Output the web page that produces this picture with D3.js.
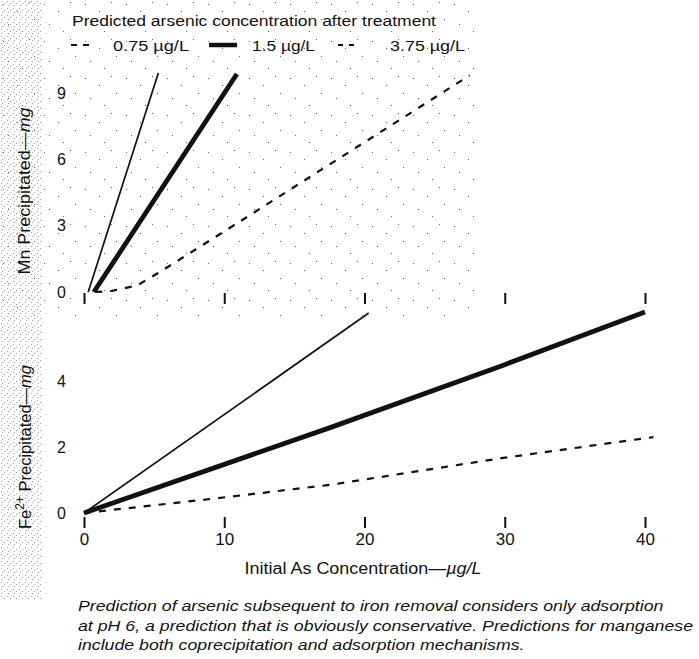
<!DOCTYPE html>
<html lang="en">
<head>
<meta charset="UTF-8">
<title>arsenic-precipitation</title>
<script src="https://cdn.jsdelivr.net/npm/d3@7/dist/d3.min.js"></script>
<style>
  body { margin: 0; background: #fff; }
  text { font-family: "Liberation Sans", Arial, sans-serif; fill: #111; }
</style>
</head>
<body>
<svg id="chart" width="699" height="659"></svg>
<script>
// ticks
const xTicks = [0, 10, 20, 30, 40];
const mnTicks = [0, 3, 6, 9];
const feTicks = [0, 2, 4];
const seriesLabels = ["0.75 µg/L", "1.5 µg/L", "3.75 µg/L"];

// Mn precipitated (upper panel)
const mn075As = [0.3, 5.3];
const mn075Mg = [0, 9.9];
const mn15As = [0.7, 10.9];
const mn15Mg = [0, 9.86];
const mn375As = [0.8, 2.0, 3.8, 5.4, 10.9, 27.5];
const mn375Mg = [0, 0.05, 0.3, 0.9, 3.1, 9.8];

// Fe2+ precipitated (lower panel)
const fe075As = [0, 20.3];
const fe075Mg = [0, 6.06];
const fe15As = [0, 17.5, 29.9, 40];
const fe15Mg = [0, 2.58, 4.48, 6.09];
const fe375As = [0, 8.3, 17.5, 29.9, 40.6];
const fe375Mg = [0, 0.39, 0.85, 1.67, 2.3];

const svg = d3.select("#chart");

// scanned-paper stipple (just texture, no data)
const defs = svg.append("defs");
const dense = defs.append("pattern").attr("id", "dense")
  .attr("width", 6).attr("height", 7).attr("patternUnits", "userSpaceOnUse");
[[1, 1], [4, 3], [2, 5]].forEach(p => dense.append("rect")
  .attr("x", p[0]).attr("y", p[1]).attr("width", 1).attr("height", 1).attr("fill", "#444"));
const sparse = defs.append("pattern").attr("id", "sparse")
  .attr("width", 41).attr("height", 37).attr("patternUnits", "userSpaceOnUse");
[[3, 4], [17, 11], [29, 2], [8, 24], [34, 19], [22, 31]].forEach(p => sparse.append("rect")
  .attr("x", p[0]).attr("y", p[1]).attr("width", 1).attr("height", 1).attr("fill", "#666"));
svg.append("rect").attr("x", 0).attr("y", 0).attr("width", 480).attr("height", 320).attr("fill", "url(#sparse)");
svg.append("rect").attr("x", 0).attr("y", 0).attr("width", 42).attr("height", 600).attr("fill", "url(#dense)").attr("opacity", 0.5);

const x = d3.scaleLinear().domain([0, 40]).range([84, 645]);
const yMn = d3.scaleLinear().domain([0, 9]).range([292, 93]);
const yFe = d3.scaleLinear().domain([0, 4]).range([513, 381]);

// line styles per series
const styles = [
  { width: 1.7, dash: null },
  { width: 4.8, dash: null },
  { width: 2.2, dash: "7,8" }
];

function zip(xs, ys) { return xs.map((v, i) => [v, ys[i]]); }

function drawSeries(yScale, sets) {
  const line = d3.line().x(d => x(d[0])).y(d => yScale(d[1]));
  sets.forEach((pts, i) => {
    svg.append("path")
      .attr("d", line(pts))
      .attr("fill", "none")
      .attr("stroke", "#111")
      .attr("stroke-width", styles[i].width)
      .attr("stroke-dasharray", styles[i].dash);
  });
}

drawSeries(yMn, [zip(mn075As, mn075Mg), zip(mn15As, mn15Mg), zip(mn375As, mn375Mg)]);
drawSeries(yFe, [zip(fe075As, fe075Mg), zip(fe15As, fe15Mg), zip(fe375As, fe375Mg)]);

// x axes: upper one only tick marks, lower with labels
function xAxis(yPos, withLabels) {
  const g = svg.append("g").attr("transform", `translate(0,${yPos})`)
    .call(d3.axisBottom(x).tickValues(xTicks).tickSize(11).tickPadding(5)
      .tickFormat(withLabels ? d3.format("d") : ""));
  g.select(".domain").remove();
  g.selectAll(".tick line").attr("stroke", "#111").attr("stroke-width", 2);
  g.selectAll(".tick text").style("font-size", "17px").attr("fill", "#111");
}
xAxis(293, false);
xAxis(517, true);

// y axes: labels only
function yAxis(scale, ticks) {
  const g = svg.append("g").attr("transform", "translate(66,0)")
    .call(d3.axisLeft(scale).tickValues(ticks).tickSize(0).tickPadding(0)
      .tickFormat(d3.format("d")));
  g.select(".domain").remove();
  g.selectAll(".tick text").style("font-size", "16px").attr("fill", "#111");
}
yAxis(yMn, mnTicks);
yAxis(yFe, feTicks);

// axis titles
const mnTitle = svg.append("text")
  .attr("transform", "translate(30,191) rotate(-90)")
  .attr("text-anchor", "middle").style("font-size", "16.5px")
  .attr("textLength", 167).attr("lengthAdjust", "spacingAndGlyphs");
mnTitle.append("tspan").text("Mn Precipitated—");
mnTitle.append("tspan").style("font-style", "italic").text("mg");

const feTitle = svg.append("text")
  .attr("transform", "translate(31,447) rotate(-90)")
  .attr("text-anchor", "middle").style("font-size", "16.5px");
feTitle.append("tspan").text("Fe");
feTitle.append("tspan").attr("dy", -7).style("font-size", "12px").text("2+");
feTitle.append("tspan").attr("dy", 7).text(" Precipitated—");
feTitle.append("tspan").style("font-style", "italic").text("mg");

const xTitle = svg.append("text")
  .attr("x", 363).attr("y", 574)
  .attr("text-anchor", "middle").style("font-size", "16px")
  .attr("textLength", 237).attr("lengthAdjust", "spacingAndGlyphs");
xTitle.append("tspan").text("Initial As Concentration—");
xTitle.append("tspan").style("font-style", "italic").text("µg/L");

// legend
svg.append("text").attr("x", 72).attr("y", 26)
  .style("font-size", "15.5px")
  .attr("textLength", 364).attr("lengthAdjust", "spacingAndGlyphs")
  .text("Predicted arsenic concentration after treatment");

const legendX = [71, 209, 338];
const legendW = [20, 28, 16];
const legendLabelX = [113, 252, 390];
const labelW = [76, 63, 75];
const legendDash = ["6,6", null, "5,6"];
seriesLabels.forEach((lab, i) => {
  svg.append("line")
    .attr("x1", legendX[i]).attr("x2", legendX[i] + legendW[i])
    .attr("y1", 45).attr("y2", 45)
    .attr("stroke", "#111")
    .attr("stroke-width", i === 1 ? 4.5 : 1.8)
    .attr("stroke-dasharray", legendDash[i]);
  svg.append("text").attr("x", legendLabelX[i]).attr("y", 51)
    .style("font-size", "15.5px")
    .attr("textLength", labelW[i]).attr("lengthAdjust", "spacingAndGlyphs")
    .text(lab);
});

// caption: same horizontal stretch on every line, taken from line 2
const caption = [
  "Prediction of arsenic subsequent to iron removal considers only adsorption",
  "at pH 6, a prediction that is obviously conservative. Predictions for manganese",
  "include both coprecipitation and adsorption mechanisms."
];
const capNodes = caption.map((line, i) => svg.append("text")
  .attr("x", 78).attr("y", 611 + i * 19.5)
  .style("font-size", "15px").style("font-style", "italic")
  .text(line));
const stretch = 615 / capNodes[1].node().getComputedTextLength();
capNodes.forEach(t => t
  .attr("textLength", t.node().getComputedTextLength() * stretch)
  .attr("lengthAdjust", "spacingAndGlyphs"));
</script>
</body>
</html>
